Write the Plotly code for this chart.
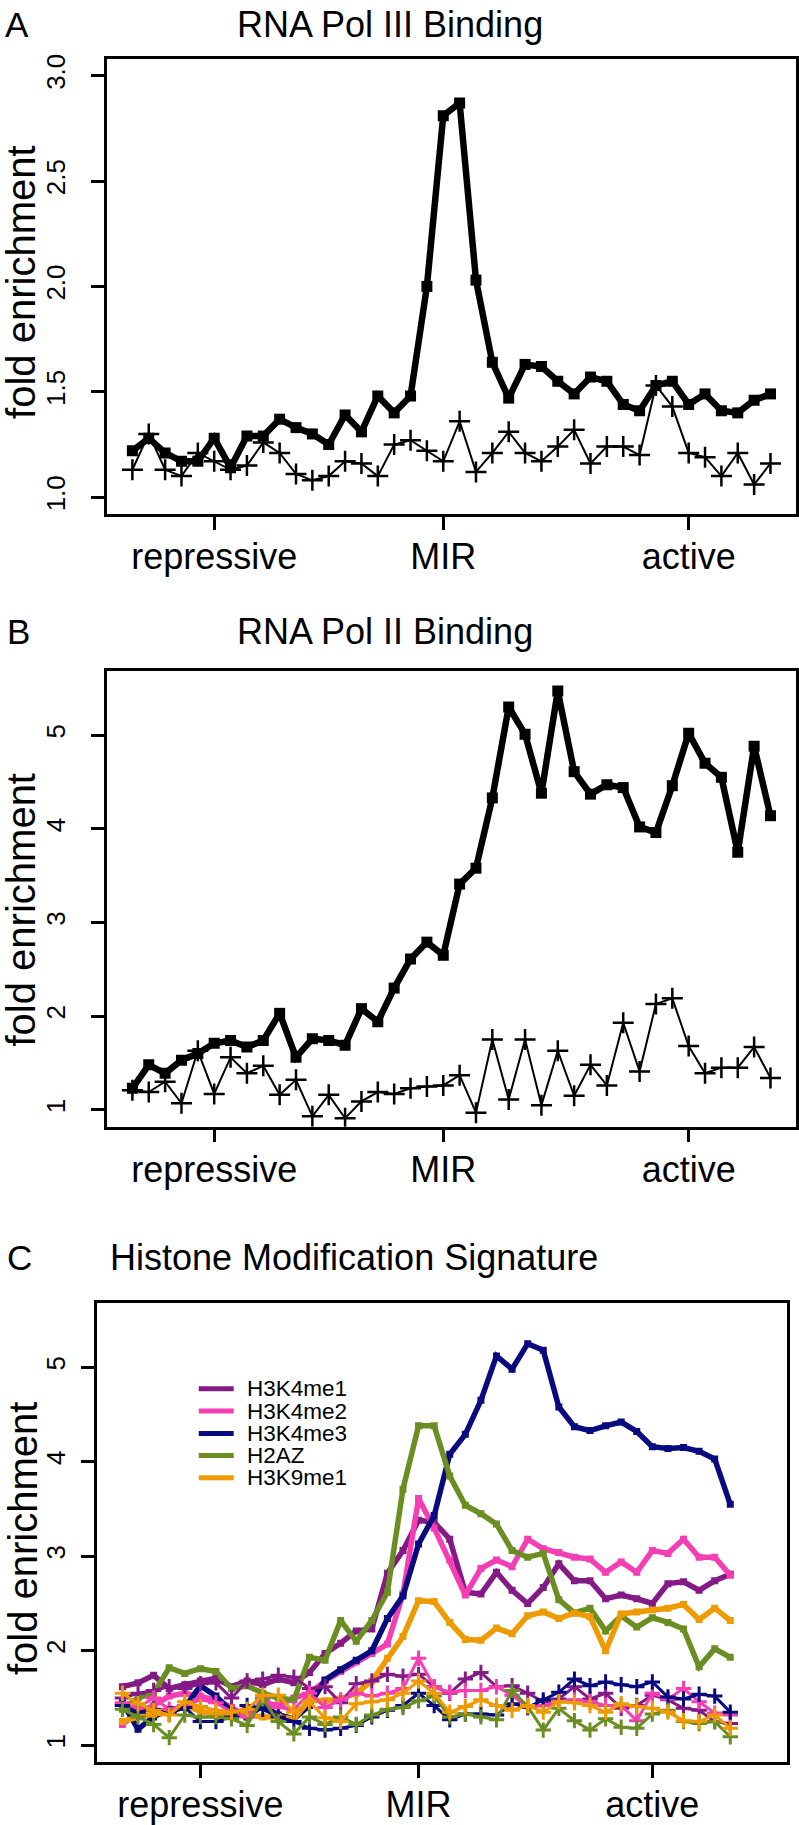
import plotly.graph_objects as go

W, H = 799, 1825
x = list(range(1, 41))

tick_vals = [6, 20, 35]
tick_text = ["repressive", "MIR", "active"]

# Panel A: RNA Pol III binding
polIII_mir = [1.22, 1.28, 1.21, 1.17, 1.17, 1.28, 1.14, 1.29, 1.29, 1.37,
              1.33, 1.30, 1.25, 1.39, 1.31, 1.48, 1.40, 1.48, 2.00, 2.81,
              2.87, 2.03, 1.64, 1.47, 1.63, 1.62, 1.55, 1.49, 1.57, 1.55,
              1.44, 1.41, 1.53, 1.55, 1.44, 1.49, 1.41, 1.40, 1.46, 1.49]
polIII_ctrl = [1.13, 1.30, 1.13, 1.10, 1.21, 1.17, 1.13, 1.15, 1.26, 1.21,
               1.11, 1.08, 1.10, 1.17, 1.16, 1.10, 1.25, 1.27, 1.22, 1.17,
               1.36, 1.12, 1.21, 1.31, 1.21, 1.17, 1.24, 1.32, 1.16, 1.24,
               1.24, 1.20, 1.53, 1.43, 1.21, 1.19, 1.10, 1.21, 1.06, 1.16]

# Panel B: RNA Pol II binding
polII_mir = [1.23, 1.48, 1.39, 1.53, 1.60, 1.71, 1.74, 1.67, 1.74, 2.03,
             1.56, 1.76, 1.74, 1.69, 2.08, 1.94, 2.30, 2.61, 2.79, 2.65,
             3.41, 3.58, 4.33, 5.30, 5.01, 4.38, 5.47, 4.61, 4.37, 4.47,
             4.44, 4.02, 3.96, 4.46, 5.02, 4.70, 4.55, 3.75, 4.88, 4.14]
polII_ctrl = [1.21, 1.19, 1.30, 1.07, 1.63, 1.17, 1.56, 1.39, 1.47, 1.16,
              1.32, 0.93, 1.16, 0.91, 1.09, 1.19, 1.17, 1.23, 1.25, 1.26,
              1.37, 0.97, 1.75, 1.11, 1.75, 1.05, 1.63, 1.15, 1.48, 1.26,
              1.93, 1.41, 2.13, 2.19, 1.68, 1.39, 1.45, 1.45, 1.67, 1.34]

# Panel C: histone modification signature (MIR = thick, control = thin +)
h3k4me1_mir = [1.62, 1.66, 1.74, 1.60, 1.64, 1.68, 1.71, 1.62, 1.68, 1.64,
               1.70, 1.66, 1.77, 1.97, 2.08, 2.21, 2.23, 2.82, 3.06, 3.38,
               3.36, 3.18, 2.62, 2.60, 2.83, 2.64, 2.50, 2.67, 2.92, 2.74,
               2.74, 2.55, 2.59, 2.55, 2.50, 2.71, 2.73, 2.64, 2.74, 2.81]
h3k4me2_mir = [1.22, 1.35, 1.42, 1.52, 1.55, 1.52, 1.48, 1.40, 1.30, 1.45,
               1.42, 1.50, 1.55, 1.68, 1.78, 1.88, 1.97, 2.07, 2.60, 3.61,
               3.30, 2.96, 2.59, 2.87, 2.96, 2.89, 3.18, 3.08, 3.04, 2.99,
               2.97, 2.83, 2.94, 2.83, 3.06, 3.03, 3.18, 2.99, 2.99, 2.80]
h3k4me3_mir = [1.45, 1.17, 1.30, 1.38, 1.40, 1.63, 1.52, 1.36, 1.30, 1.42,
               1.32, 1.28, 1.42, 1.69, 1.80, 1.90, 2.00, 2.34, 2.58, 3.13,
               3.43, 4.08, 4.29, 4.65, 5.12, 4.98, 5.25, 5.18, 4.58, 4.37,
               4.33, 4.38, 4.42, 4.32, 4.16, 4.14, 4.15, 4.11, 4.03, 3.55]
h2az_mir = [1.38, 1.50, 1.55, 1.82, 1.76, 1.81, 1.78, 1.60, 1.63, 1.55,
            1.50, 1.48, 1.93, 1.90, 2.32, 2.10, 2.32, 2.62, 3.71, 4.38,
            4.38, 3.85, 3.54, 3.45, 3.34, 3.06, 2.99, 3.03, 2.54, 2.40,
            2.45, 2.21, 2.37, 2.25, 2.35, 2.30, 2.23, 1.83, 2.02, 1.93]
h3k9me1_mir = [1.25, 1.30, 1.33, 1.35, 1.42, 1.36, 1.32, 1.35, 1.32, 1.30,
               1.30, 1.28, 1.48, 1.47, 1.49, 1.55, 1.68, 1.92, 2.15, 2.53,
               2.52, 2.30, 2.12, 2.11, 2.24, 2.18, 2.37, 2.41, 2.34, 2.40,
               2.36, 2.00, 2.39, 2.41, 2.43, 2.45, 2.49, 2.33, 2.45, 2.32]

h3k4me1_ctrl = [1.50, 1.55, 1.58, 1.62, 1.60, 1.65, 1.66, 1.50, 1.68, 1.70,
                1.74, 1.72, 1.60, 1.62, 1.45, 1.65, 1.68, 1.75, 1.73, 1.75,
                1.62, 1.55, 1.70, 1.77, 1.62, 1.63, 1.55, 1.46, 1.49, 1.62,
                1.49, 1.55, 1.39, 1.42, 1.53, 1.48, 1.39, 1.37, 1.25, 1.23]
h3k4me2_ctrl = [1.45, 1.40, 1.50, 1.38, 1.42, 1.48, 1.45, 1.35, 1.30, 1.50,
                1.40, 1.38, 1.55, 1.40, 1.48, 1.55, 1.52, 1.55, 1.60, 1.92,
                1.62, 1.56, 1.58, 1.58, 1.62, 1.53, 1.40, 1.42, 1.46, 1.48,
                1.46, 1.42, 1.42, 1.26, 1.55, 1.49, 1.60, 1.46, 1.34, 1.32]
h3k4me3_ctrl = [1.42, 1.35, 1.38, 1.33, 1.40, 1.25, 1.25, 1.30, 1.42, 1.38,
                1.30, 1.25, 1.18, 1.16, 1.18, 1.21, 1.30, 1.37, 1.42, 1.55,
                1.42, 1.27, 1.33, 1.33, 1.32, 1.44, 1.40, 1.48, 1.56, 1.70,
                1.63, 1.67, 1.64, 1.62, 1.67, 1.51, 1.49, 1.54, 1.52, 1.35]
h2az_ctrl = [1.38, 1.30, 1.22, 1.08, 1.32, 1.30, 1.30, 1.28, 1.21, 1.49,
             1.25, 1.12, 1.30, 1.22, 1.30, 1.22, 1.32, 1.38, 1.40, 1.47,
             1.52, 1.30, 1.33, 1.30, 1.27, 1.58, 1.41, 1.16, 1.39, 1.26,
             1.16, 1.28, 1.19, 1.18, 1.33, 1.37, 1.25, 1.23, 1.25, 1.09]
h3k9me1_ctrl = [1.55, 1.44, 1.37, 1.32, 1.46, 1.41, 1.37, 1.35, 1.38, 1.53,
                1.53, 1.35, 1.46, 1.29, 1.25, 1.44, 1.46, 1.48, 1.55, 1.68,
                1.55, 1.35, 1.41, 1.48, 1.42, 1.37, 1.42, 1.35, 1.46, 1.45,
                1.42, 1.35, 1.44, 1.41, 1.39, 1.35, 1.26, 1.25, 1.32, 1.18]

marks = ["H3K4me1", "H3K4me2", "H3K4me3", "H2AZ", "H3K9me1"]
colors = ["#841A86", "#F53DB4", "#0A0A80", "#6B8E23", "#EE9A00"]
mir_series = [h3k4me1_mir, h3k4me2_mir, h3k4me3_mir, h2az_mir, h3k9me1_mir]
ctrl_series = [h3k4me1_ctrl, h3k4me2_ctrl, h3k4me3_ctrl, h2az_ctrl, h3k9me1_ctrl]

FONT = "Liberation Sans, Arial, sans-serif"

fig = go.Figure()

def thick(y, color, xa, ya, lw=6.5, ms=11, name=None):
    fig.add_trace(go.Scatter(x=x, y=y, mode="lines+markers", xaxis=xa, yaxis=ya,
                             line=dict(color=color, width=lw),
                             marker=dict(symbol="square", size=ms, color=color),
                             showlegend=False, name=name))

def thin(y, color, xa, ya, lw=2, ms=15, mlw=2.5, name=None):
    fig.add_trace(go.Scatter(x=x, y=y, mode="lines+markers", xaxis=xa, yaxis=ya,
                             line=dict(color=color, width=lw),
                             marker=dict(symbol="cross-thin", size=ms,
                                         line=dict(color=color, width=mlw)),
                             showlegend=False, name=name))

thick(polIII_mir, "black", "x", "y", name="MIR")
thin(polIII_ctrl, "black", "x", "y", name="control")
thick(polII_mir, "black", "x2", "y2", name="MIR")
thin(polII_ctrl, "black", "x2", "y2", name="control")
for m, c, s in zip(marks, colors, mir_series):
    thick(s, c, "x3", "y3", lw=5.5, ms=7, name=m)
for m, c, s in zip(marks, colors, ctrl_series):
    thin(s, c, "x3", "y3", lw=3, ms=11, mlw=3, name=m + " control")

def fx(p):
    return p / W

def fy(p):
    return 1 - p / H

common_ax = dict(showline=True, mirror=True, linecolor="black", linewidth=2.5,
                 ticks="outside", ticklen=13, tickwidth=2.5, tickcolor="black",
                 showgrid=False, zeroline=False)

def xaxis(dom, rng):
    return dict(domain=[fx(dom[0]), fx(dom[1])], range=rng, tickvals=tick_vals,
                ticktext=tick_text, tickfont=dict(size=36, family=FONT, color="black"),
                ticklabelstandoff=-4, **common_ax)

def yaxis(dom, rng, tv, tt, standoff):
    return dict(domain=[fy(dom[1]), fy(dom[0])], range=rng, tickvals=tv, ticktext=tt,
                tickangle=-90, tickfont=dict(size=26, family=FONT, color="black"),
                ticklabelstandoff=standoff, **common_ax)

yA = [1.0, 1.5, 2.0, 2.5, 3.0]
yB = [1, 2, 3, 4, 5]

fig.update_layout(
    width=W, height=H, margin=dict(l=0, r=0, t=0, b=0),
    paper_bgcolor="white", plot_bgcolor="white",
    font=dict(family=FONT, color="black"),
    xaxis=dict(anchor="y", **xaxis((107, 797), [-0.56, 41.56])),
    yaxis=dict(anchor="x", **yaxis((54, 511), [0.92, 3.08], yA, ["%.1f" % v for v in yA], 16)),
    xaxis2=dict(anchor="y2", **xaxis((107, 797), [-0.56, 41.56])),
    yaxis2=dict(anchor="x2", **yaxis((669, 1126), [0.82, 5.68], yB, [str(v) for v in yB], 16)),
    xaxis3=dict(anchor="y3", **xaxis((97, 788), [-0.64, 43.64])),
    yaxis3=dict(anchor="x3", **yaxis((1303, 1764), [0.82, 5.68], yB, [str(v) for v in yB], 6)),
)

anns = []
def ann(text, xp, yp, size, xanchor="left", angle=0):
    anns.append(dict(text=text, x=fx(xp), y=fy(yp), xref="paper", yref="paper",
                     xanchor=xanchor, yanchor="middle", showarrow=False,
                     textangle=angle, font=dict(size=size, family=FONT, color="black")))

ann("A", 3, 20, 35)
ann("RNA Pol III Binding", 235, 20, 36)
ann("B", 5, 629, 35)
ann("RNA Pol II Binding", 235, 629, 36)
ann("C", 5, 1257, 35)
ann("Histone Modification Signature", 108, 1257, 36)
ann("fold enrichment", 21, 278, 40, xanchor="center", angle=-90)
ann("fold enrichment", 21, 908, 40, xanchor="center", angle=-90)
ann("fold enrichment", 23, 1539, 40, xanchor="center", angle=-90)

legend_rows = [1389, 1411.5, 1434, 1456, 1478.5]
shapes = []
for m, c, yr in zip(marks, colors, legend_rows):
    shapes.append(dict(type="line", xref="paper", yref="paper",
                       x0=fx(199), x1=fx(234), y0=fy(yr), y1=fy(yr),
                       line=dict(color=c, width=5)))
    anns.append(dict(text=m, x=fx(245), y=fy(yr), xref="paper", yref="paper",
                     xanchor="left", yanchor="middle", showarrow=False,
                     font=dict(size=22.5, family=FONT, color="black")))

fig.update_layout(annotations=anns, shapes=shapes)
fig.write_html("out.html", config={"displayModeBar": False},
               post_script="document.body.style.margin='0';")
